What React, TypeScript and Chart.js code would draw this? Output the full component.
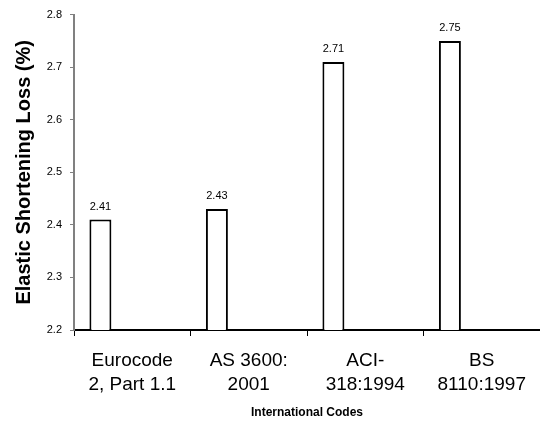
import React, { useEffect, useRef } from "react";
import { Chart, registerables } from "chart.js";

Chart.register(...registerables);

// Elastic shortening loss per design code
const codes: string[][] = [
  ["Eurocode", "2, Part 1.1"],
  ["AS 3600:", "2001"],
  ["ACI-", "318:1994"],
  ["BS", "8110:1997"],
];
const lossValues: number[] = [2.41, 2.43, 2.71, 2.75];
// empty companion series that only keep their slots in each group
const spareA: (number | null)[] = [null, null, null, null];
const spareB: (number | null)[] = [null, null, null, null];

const yMin = 2.2;
const yMax = 2.8;
const yStep = 0.1;

const FONT = "'Liberation Sans', Arial, Helvetica, sans-serif";

const valueLabels = {
  id: "valueLabels",
  afterDatasetsDraw(chart: any) {
    const meta = chart.getDatasetMeta(0);
    const data = chart.data.datasets[0].data as number[];
    const ctx = chart.ctx;
    ctx.save();
    ctx.font = `11px ${FONT}`;
    ctx.fillStyle = "#000";
    ctx.textAlign = "center";
    ctx.textBaseline = "alphabetic";
    meta.data.forEach((el: any, i: number) => {
      const v = data[i];
      if (v == null) return;
      ctx.fillText(v.toFixed(2), el.x, el.y - 10);
    });
    ctx.restore();
  },
};

export default function App() {
  const canvasRef = useRef<HTMLCanvasElement | null>(null);

  useEffect(() => {
    if (!canvasRef.current) return;
    const chart = new Chart(canvasRef.current, {
      type: "bar",
      data: {
        labels: codes,
        datasets: [
          {
            data: lossValues,
            backgroundColor: "#ffffff",
            borderColor: "#000000",
            borderWidth: 2,
            borderSkipped: "bottom",
          },
          { data: spareA, backgroundColor: "#ffffff" },
          { data: spareB, backgroundColor: "#ffffff" },
        ],
      },
      options: {
        responsive: false,
        animation: false,
        categoryPercentage: 0.82,
        barPercentage: 0.69,
        layout: { padding: { top: 10, right: 0, bottom: 0, left: 0 } },
        plugins: {
          legend: { display: false },
          tooltip: { enabled: false },
          title: { display: false },
        },
        scales: {
          x: {
            type: "category",
            offset: true,
            afterFit(scale: any) {
              scale.height = 93;
            },
            border: { display: true, color: "#000000", width: 2 },
            grid: {
              offset: true,
              drawOnChartArea: false,
              drawTicks: true,
              tickLength: 6,
              color: "#000000",
              lineWidth: 1,
            },
            ticks: {
              color: "#000000",
              font: { family: FONT, size: 19, lineHeight: 1.3 },
              padding: 12,
              maxRotation: 0,
              autoSkip: false,
            },
            title: {
              display: true,
              text: "International Codes",
              color: "#000000",
              font: { family: FONT, size: 12, weight: "bold", lineHeight: 1.2 },
              padding: { top: 0, bottom: 3 },
            },
          },
          y: {
            min: yMin,
            max: yMax,
            afterFit(scale: any) {
              scale.width = 74;
            },
            border: { display: true, color: "#808080", width: 2 },
            grid: {
              drawOnChartArea: false,
              drawTicks: true,
              tickLength: 4,
              color: "#808080",
            },
            ticks: {
              stepSize: yStep,
              color: "#000000",
              font: { family: FONT, size: 11 },
              padding: 8,
              callback: (v: any) => Number(v).toFixed(1),
            },
            title: {
              display: true,
              text: "Elastic Shortening Loss (%)",
              color: "#000000",
              font: { family: FONT, size: 20, weight: "bold", lineHeight: 1.2 },
              padding: { top: 12, bottom: 0 },
            },
          },
        },
      },
      plugins: [valueLabels],
    });
    return () => chart.destroy();
  }, []);

  return (
    <div style={{ position: "fixed", left: 0, top: 0, width: 540, height: 423, background: "#fff" }}>
      <canvas ref={canvasRef} width={540} height={423} />
    </div>
  );
}
